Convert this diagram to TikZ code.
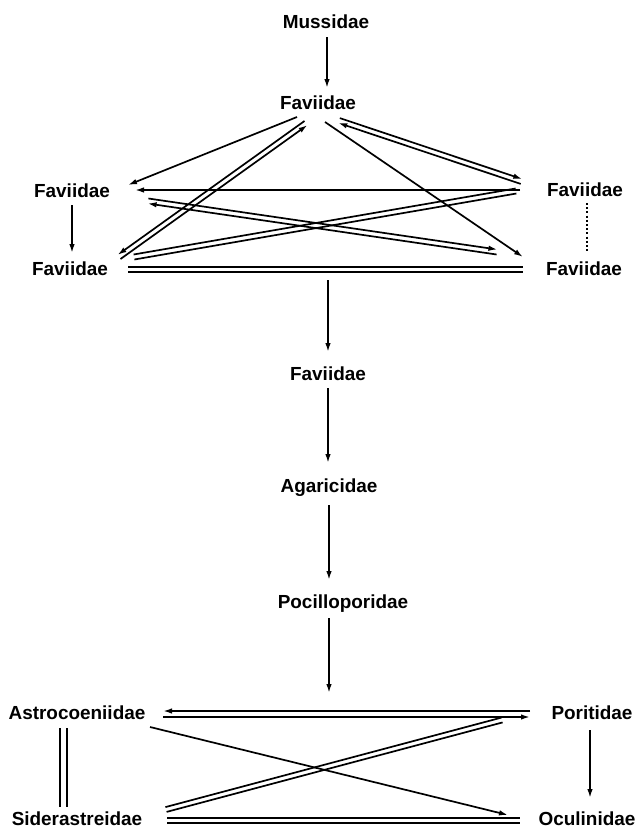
\documentclass[tikz,border=0pt]{standalone}
\usepackage{fontspec}
\setmainfont{Liberation Sans}
\usetikzlibrary{arrows.meta,calc}
\begin{document}
\begin{tikzpicture}[x=1bp,y=-1bp,
  family/.style={font=\bfseries\fontsize{19}{22}\selectfont, inner sep=0pt,
                 text height=13.6bp, text depth=0pt},
  conn/.style={line width=1.7bp, draw=black},
  arr/.style={conn, -{Latex[length=9bp,width=5.5bp]}},
  dotline/.style={line width=1.4bp, draw=black, dash pattern=on 2bp off 2.2bp}]
\path[use as bounding box] (0,0) rectangle (640,830);

% family names
\node[family] (M)   at (326,22)  {Mussidae};
\node[family] (F1)  at (318,103) {Faviidae};
\node[family] (FL)  at (72,191)  {Faviidae};
\node[family] (FR)  at (585,190) {Faviidae};
\node[family] (FBL) at (70,269)  {Faviidae};
\node[family] (FBR) at (584,269) {Faviidae};
\node[family] (FM)  at (328,374) {Faviidae};
\node[family] (AG)  at (329,486) {Agaricidae};
\node[family] (PO)  at (343,602) {Pocilloporidae};
\node[family] (AS)  at (77,713)  {Astrocoeniidae};
\node[family] (PR)  at (592,713) {Poritidae};
\node[family] (SI)  at (77,819)  {Siderastreidae};
\node[family] (OC)  at (587,819) {Oculinidae};

% points where the vertical stem leaves / meets a double bar
\coordinate (hubA) at (328,280);
\coordinate (hubB) at (329,693);

% --- upper group ---
\draw[arr] ($(M)+(1,15)$) -- ($(F1)+(9,-15)$);
\draw[arr] ($(F1)+(-21,14)$) -- ($(FL)+(56,-6)$);
% F1 <-> lower-left Faviidae
\draw[arr] ($(F1)+(-13.5,18)$) -- ($(FBL)+(47.5,-14)$);
\draw[arr] ($(FBL)+(50.5,-10)$) -- ($(F1)+(-10.5,22)$);
% right Faviidae -> left Faviidae
\draw[arr] ($(FR)+(-65,0)$) -- ($(FL)+(63,-1)$);
% left Faviidae <-> lower-right Faviidae
\draw[arr] ($(FL)+(76.4,7.5)$) -- ($(FBR)+(-86.6,-19.5)$);
\draw[arr] ($(FBR)+(-87.4,-14.5)$) -- ($(FL)+(75.6,12.5)$);
% lower-left Faviidae = right Faviidae
\draw[conn] ($(FBL)+(63.6,-14.5)$) -- ($(FR)+(-69.4,-1.5)$);
\draw[conn] ($(FBL)+(64.4,-9.5)$) -- ($(FR)+(-68.6,3.5)$);
% F1 <-> right Faviidae
\draw[arr] ($(F1)+(21.8,15.1)$) -- ($(FR)+(-62.7,-10.9)$);
\draw[arr] ($(FR)+(-64.3,-6.1)$) -- ($(F1)+(20.2,19.9)$);
% F1 -> lower-right Faviidae
\draw[arr] ($(F1)+(7,19)$) -- ($(FBR)+(-61,-12)$);
% lower bar
\draw[conn] ($(FBL)+(58,-2)$) -- ($(FBR)+(-61,-2)$);
\draw[conn] ($(FBL)+(58,3)$) -- ($(FBR)+(-61,3)$);
% verticals at the sides
\draw[arr] ($(FL)+(0,14)$) -- ($(FBL)+(2,-16)$);
\draw[dotline] ($(FR)+(2,13)$) -- ($(FBR)+(3,-17)$);

% --- central stem ---
\draw[arr] (hubA) -- ($(FM)+(0,-22)$);
\draw[arr] ($(FM)+(0,14)$) -- ($(AG)+(-1,-23)$);
\draw[arr] ($(AG)+(0,19)$) -- ($(PO)+(-14,-22)$);
\draw[arr] ($(PO)+(-14,16)$) -- (hubB);

% --- lower group ---
\draw[arr] ($(PR)+(-62,-2)$) -- ($(AS)+(86,-2)$);
\draw[arr] ($(AS)+(86,4)$) -- ($(PR)+(-62,4)$);
\draw[arr] ($(AS)+(73,14)$) -- ($(OC)+(-79,-4)$);
\draw[conn] ($(SI)+(88.4,-11.9)$) -- ($(PR)+(-90.6,4.6)$);
\draw[conn] ($(SI)+(89.6,-7.1)$) -- ($(PR)+(-89.4,9.4)$);
\draw[conn] ($(SI)+(90,-1)$) -- ($(OC)+(-67,-1)$);
\draw[conn] ($(SI)+(90,4)$) -- ($(OC)+(-67,4)$);
\draw[arr] ($(PR)+(-2,17)$) -- ($(OC)+(3,-21)$);
\draw[conn] ($(AS)+(-17,15)$) -- ($(SI)+(-17,-12)$);
\draw[conn] ($(AS)+(-10,15)$) -- ($(SI)+(-10,-12)$);
\end{tikzpicture}
\end{document}
